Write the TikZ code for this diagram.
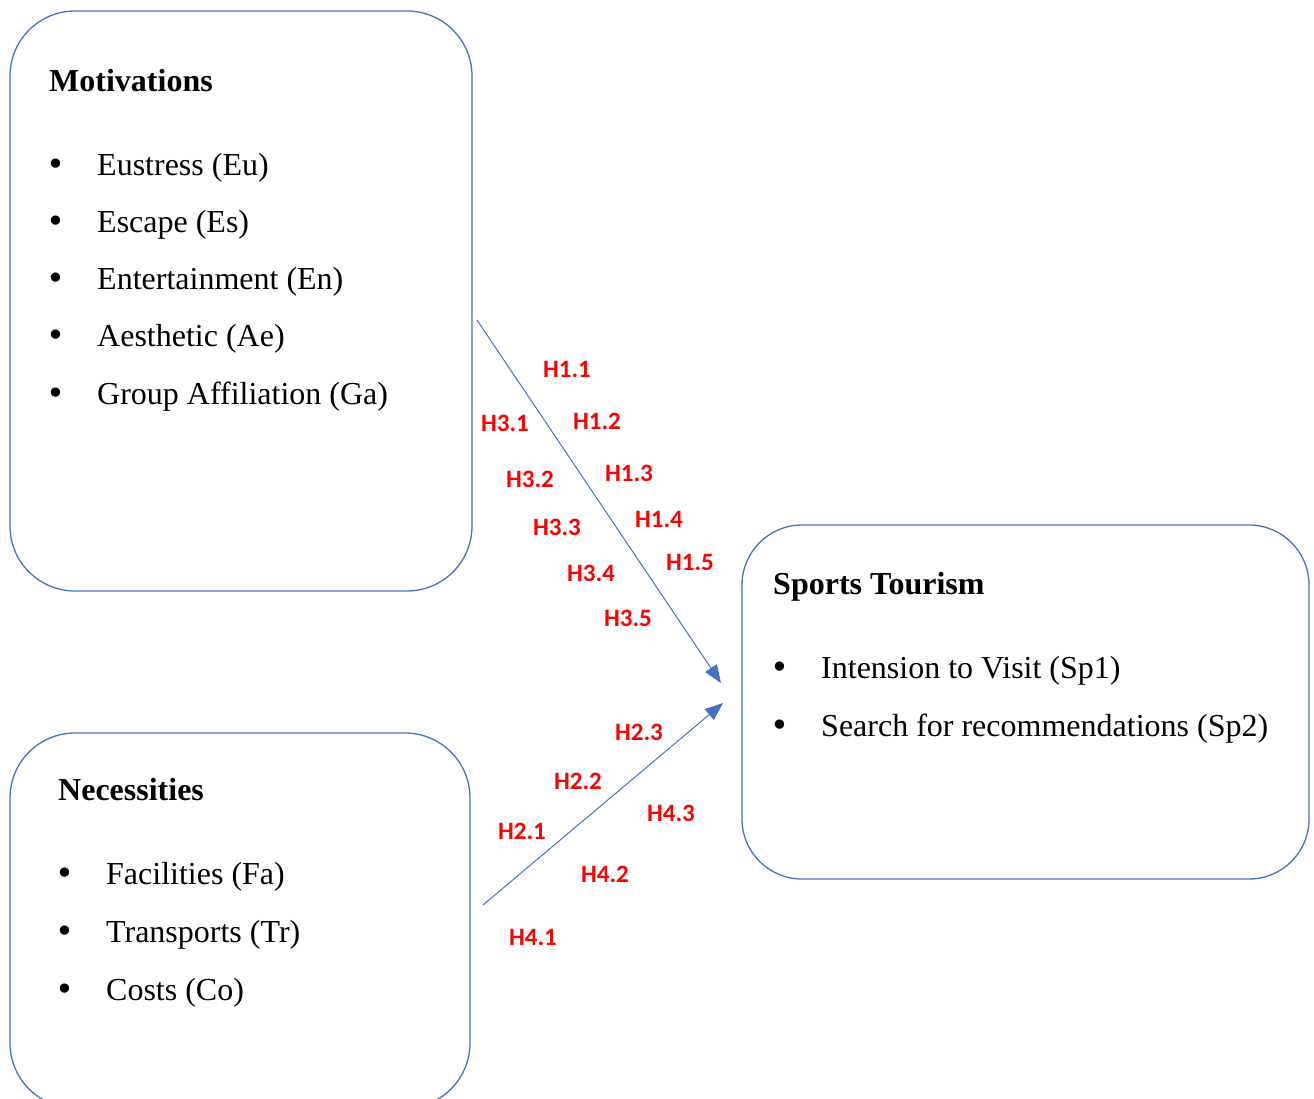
\documentclass[tikz,border=0pt]{standalone}
\usepackage{fontspec}
\setmainfont{Liberation Serif}
\newfontfamily\hypfont{Carlito}
\newfontfamily\bulletfont{DejaVu Sans}
\usetikzlibrary{arrows.meta, positioning}
\definecolor{frame_blue}{RGB}{68,114,196}
\definecolor{hyp_red}{RGB}{255,0,0}
\tikzset{
  body_font/.style = {font=\fontsize{32}{38}\selectfont},
  title_font/.style = {font=\fontsize{32}{38}\selectfont\bfseries},
  hyp_font/.style = {font=\hypfont\bfseries\fontsize{25}{29}\selectfont}
}
\tikzset{
  box/.style = {draw=frame_blue, line width=1.3, rounded corners=65, inner sep=0, outer sep=0, anchor=north west},
  title/.style = {title_font, inner sep=0, anchor=base west},
  item/.style = {body_font, inner sep=0, anchor=base west},
  hyp/.style = {hyp_font, text=hyp_red, inner sep=0},
  link/.style = {draw=frame_blue, line width=1, -{Triangle[length=18, width=14]}}
}
\newcommand{\bulletitem}[1]{\makebox[51pt][l]{\bulletfont•}#1}
\begin{document}
\begin{tikzpicture}[x=1pt, y=-1pt]
    \useasboundingbox (0,0) rectangle (1314,1098);
    \clip (0,0) rectangle (1314,1098);

    % Boxes
    \node[box, minimum width=462, minimum height=580] (mot) at (10,11) {};
    \node[box, minimum width=460, minimum height=375] (nec) at (10,733) {};
    \node[box, minimum width=567, minimum height=354, rounded corners=60] (spt) at (742,525) {};

    % Box contents
    \node[title] (mot_t) at ([xshift=39, yshift=-80]mot.north west) {Motivations};
    \foreach \txt [count=\i from 0] in {Eustress (Eu), Escape (Es), Entertainment (En), Aesthetic (Ae), Group Affiliation (Ga)}
        \node[item] (mot_\i) at ([xshift=-3, yshift=-84-57.3*\i]mot_t.base west) {\bulletitem{\txt}};

    \node[title] (nec_t) at ([xshift=48, yshift=-67]nec.north west) {Necessities};
    \foreach \txt [count=\i from 0] in {Facilities (Fa), Transports (Tr), Costs (Co)}
        \node[item] (nec_\i) at ([xshift=-3, yshift=-84-58*\i]nec_t.base west) {\bulletitem{\txt}};

    \node[title] (spt_t) at ([xshift=31, yshift=-69]spt.north west) {Sports Tourism};
    \foreach \txt [count=\i from 0] in {Intension to Visit (Sp1), Search for recommendations (Sp2)}
        \node[item] (spt_\i) at ([xshift=-3, yshift=-84-58*\i]spt_t.base west) {\bulletitem{\txt}};

    % Arrows
    \coordinate (mot_out) at (477,320);
    \coordinate (nec_out) at (483,905);
    \coordinate (spt_in_a) at (721,683);
    \coordinate (spt_in_b) at (723,703);
    \draw[link] (mot_out) -- (spt_in_a);
    \draw[link] (nec_out) -- (spt_in_b);

    % Hypotheses
    \node[hyp] (h11) at (567,369) {H1.1};
    \node[hyp] (h12) at (597,421) {H1.2};
    \node[hyp] (h13) at (629,473) {H1.3};
    \node[hyp] (h14) at (659,519) {H1.4};
    \node[hyp] (h15) at (690,562) {H1.5};
    \node[hyp] (h31) at (505,423) {H3.1};
    \node[hyp] (h32) at (530,479) {H3.2};
    \node[hyp] (h33) at (557,527) {H3.3};
    \node[hyp] (h34) at (591,573) {H3.4};
    \node[hyp] (h35) at (628,618) {H3.5};
    \node[hyp] (h23) at (639,732) {H2.3};
    \node[hyp] (h22) at (578,781) {H2.2};
    \node[hyp] (h21) at (522,831) {H2.1};
    \node[hyp] (h43) at (671,813) {H4.3};
    \node[hyp] (h42) at (605,874) {H4.2};
    \node[hyp] (h41) at (533,937) {H4.1};
\end{tikzpicture}
\end{document}
